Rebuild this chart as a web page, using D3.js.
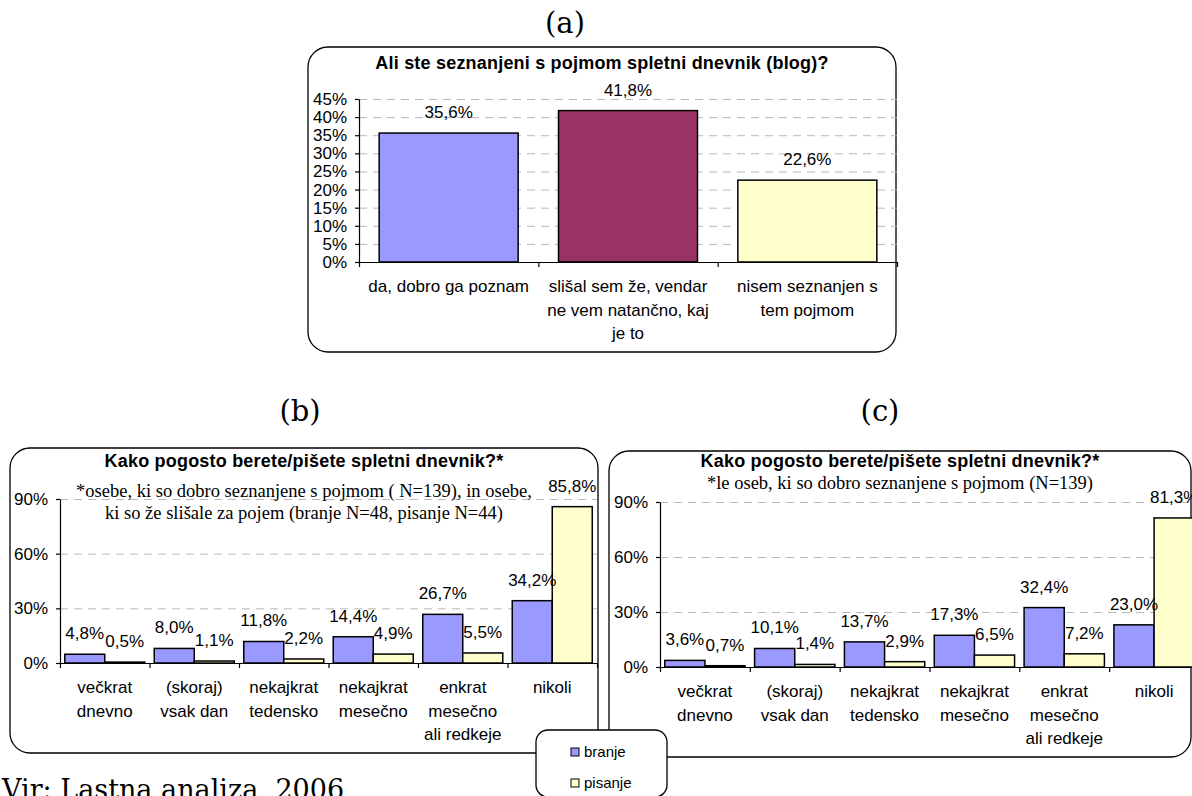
<!DOCTYPE html>
<html><head><meta charset="utf-8">
<script src="https://cdn.jsdelivr.net/npm/d3@7"></script>
<style>
body{margin:0;background:#fff;}
svg{display:block;}
</style></head>
<body>
<svg id="c" width="1192" height="796"></svg>
<script>
// ---- data ----
const catsA = [["da, dobro ga poznam"], ["slišal sem že, vendar", "ne vem natančno, kaj", "je to"], ["nisem seznanjen s", "tem pojmom"]];
const valsA = [35.6, 41.8, 22.6];
const ticksA = [0, 5, 10, 15, 20, 25, 30, 35, 40, 45];

const catsBC = [["večkrat", "dnevno"], ["(skoraj)", "vsak dan"], ["nekajkrat", "tedensko"], ["nekajkrat", "mesečno"], ["enkrat", "mesečno", "ali redkeje"], ["nikoli"]];
const seriesNames = ["branje", "pisanje"];
const branjeB = [4.8, 8.0, 11.8, 14.4, 26.7, 34.2];
const pisanjeB = [0.5, 1.1, 2.2, 4.9, 5.5, 85.8];
const branjeC = [3.6, 10.1, 13.7, 17.3, 32.4, 23.0];
const pisanjeC = [0.7, 1.4, 2.9, 6.5, 7.2, 81.3];
const ticksBC = [0, 30, 60, 90];

const titleA = "Ali ste seznanjeni s pojmom spletni dnevnik (blog)?";
const titleBC = "Kako pogosto berete/pišete spletni dnevnik?*";
const subB = ["*osebe, ki so dobro seznanjene s pojmom ( N=139), in osebe,", "ki so že slišale za pojem (branje N=48, pisanje N=44)"];
const subC = ["*le oseb, ki so dobro seznanjene s pojmom (N=139)"];

// ---- styles ----
const SANS = "'Liberation Sans', Arial, sans-serif";
const TIMES = "'Liberation Serif', 'Times New Roman', serif";
const SERIF = "'DejaVu Serif', serif";
const colA = ["#9999FF", "#993366", "#FFFFCC"];
const colS = {branje: "#9999FF", pisanje: "#FFFFCC"};
const fmt = v => v.toFixed(1).replace(".", ",") + "%";

const svg = d3.select("#c");

// captions
svg.append("text").attr("x", 565).attr("y", 33).attr("text-anchor", "middle")
  .style("font-family", SERIF).style("font-size", "29px").text("(a)");
svg.append("text").attr("x", 300).attr("y", 421).attr("text-anchor", "middle")
  .style("font-family", SERIF).style("font-size", "29px").text("(b)");
svg.append("text").attr("x", 880).attr("y", 421).attr("text-anchor", "middle")
  .style("font-family", SERIF).style("font-size", "29px").text("(c)");
svg.append("text").attr("x", 2).attr("y", 799)
  .style("font-family", SERIF).style("font-size", "27px").text("Vir: Lastna analiza, 2006");

function frame(x0, y0, x1, y1) {
  svg.append("rect").attr("x", x0).attr("y", y0).attr("width", x1 - x0).attr("height", y1 - y0)
    .attr("rx", 20).attr("ry", 20).attr("fill", "#fff").attr("stroke", "#000").attr("stroke-width", 1.3);
}

function yAxisAndGrid(g, y, ticks, left, right) {
  g.append("g").attr("transform", `translate(${left},0)`)
    .call(d3.axisLeft(y).tickValues(ticks.filter(t => t > 0)).tickSize(-(right - left)).tickFormat(""))
    .call(a => a.select(".domain").remove())
    .selectAll("line").attr("stroke", "#b8b8b8").attr("stroke-dasharray", "8,6").attr("stroke-width", 1);
  const ax = g.append("g").attr("transform", `translate(${left},0)`)
    .call(d3.axisLeft(y).tickValues(ticks).tickSize(4).tickSizeOuter(0).tickPadding(8).tickFormat(d => d + "%"));
  ax.selectAll("text").style("font-family", SANS).style("font-size", "17px").attr("fill", "#000");
  ax.selectAll("line,path").attr("stroke", "#000").attr("stroke-width", 1.2);
}

function xAxis(g, n, left, right, yBase) {
  const lin = d3.scaleLinear().domain([0, n]).range([left, right]);
  const ax = g.append("g").attr("transform", `translate(0,${yBase})`)
    .call(d3.axisBottom(lin).tickValues(d3.range(0, n + 1)).tickSize(5).tickSizeOuter(0).tickFormat(""));
  ax.selectAll("line,path").attr("stroke", "#000").attr("stroke-width", 1.2);
}

function catLabels(g, cats, xc, yBase) {
  cats.forEach((lines, i) => {
    const t = g.append("text").attr("text-anchor", "middle")
      .style("font-family", SANS).style("font-size", "17px");
    lines.forEach((ln, j) => {
      t.append("tspan").attr("x", xc(i)).attr("y", yBase + 30 + j * 23.5).text(ln);
    });
  });
}

// ---------- chart (a) ----------
{
  frame(308, 47, 896, 352);
  const g = svg.append("g");
  const L = 359, R = 897;
  const x = d3.scaleBand().domain(d3.range(valsA.length)).range([L, R]).paddingInner(0.225).paddingOuter(0.1125);
  const y = d3.scaleLinear().domain([0, 45]).range([262, 99]);
  yAxisAndGrid(g, y, ticksA, L, R);
  g.selectAll("rect.bar").data(valsA).join("rect").attr("class", "bar")
    .attr("x", (d, i) => x(i)).attr("width", x.bandwidth())
    .attr("y", d => y(d)).attr("height", d => y(0) - y(d))
    .attr("fill", (d, i) => colA[i]).attr("stroke", "#000").attr("stroke-width", 1.5);
  g.selectAll("text.val").data(valsA).join("text").attr("class", "val")
    .attr("x", (d, i) => x(i) + x.bandwidth() / 2).attr("y", d => y(d) - 15)
    .attr("text-anchor", "middle").style("font-family", SANS).style("font-size", "17px").text(fmt);
  xAxis(g, valsA.length, L, R, 262);
  catLabels(g, catsA, i => x(i) + x.bandwidth() / 2, 262);
  g.append("text").attr("x", 602).attr("y", 69).attr("text-anchor", "middle")
    .style("font-family", SANS).style("font-weight", "bold").style("font-size", "18px")
    .style("letter-spacing", "0.2px").text(titleA);
}

// ---------- grouped charts (b) and (c) ----------
function grouped(box, L, R, yTop, yBase, br, pi, sub, subY, titleY) {
  frame(box[0], box[1], box[2], box[3]);
  const g = svg.append("g");
  const x0 = d3.scaleBand().domain(d3.range(catsBC.length)).range([L, R]).paddingInner(0.106).paddingOuter(0.053);
  const x1 = d3.scaleBand().domain(seriesNames).range([0, x0.bandwidth()]);
  const y = d3.scaleLinear().domain([0, 90]).range([yBase, yTop]);
  yAxisAndGrid(g, y, ticksBC, L, R);
  const rows = catsBC.map((c, i) => ({i, branje: br[i], pisanje: pi[i]}));
  const grp = g.selectAll("g.cat").data(rows).join("g").attr("class", "cat")
    .attr("transform", d => `translate(${x0(d.i)},0)`);
  grp.selectAll("rect").data(d => seriesNames.map(k => ({k, v: d[k]}))).join("rect")
    .attr("x", d => x1(d.k)).attr("width", x1.bandwidth())
    .attr("y", d => y(d.v)).attr("height", d => y(0) - y(d.v))
    .attr("fill", d => colS[d.k]).attr("stroke", "#000").attr("stroke-width", 1.5);
  xAxis(g, catsBC.length, L, R, yBase);
  grp.selectAll("text").data(d => seriesNames.map(k => ({k, v: d[k]}))).join("text")
    .attr("x", d => x1(d.k) + x1.bandwidth() / 2).attr("y", d => y(d.v) - 15)
    .attr("text-anchor", "middle").style("font-family", SANS).style("font-size", "17px").text(d => fmt(d.v));
  catLabels(g, catsBC, i => x0(i) + x0.bandwidth() / 2, yBase);
  const cx = (box[0] + box[2]) / 2;
  g.append("text").attr("x", cx).attr("y", titleY).attr("text-anchor", "middle")
    .style("font-family", SANS).style("font-weight", "bold").style("font-size", "18px")
    .style("letter-spacing", "0.2px").text(titleBC);
  sub.forEach((s, j) => {
    g.append("text").attr("x", cx).attr("y", subY[j]).attr("text-anchor", "middle")
      .style("font-family", TIMES).style("font-size", "18.5px").text(s);
  });
}

grouped([10, 448, 598, 753], 60, 597, 499, 663, branjeB, pisanjeB, subB, [497, 519], 467);
grouped([609, 451, 1191, 757], 660, 1199, 502, 667, branjeC, pisanjeC, subC, [489], 467);

// ---------- legend ----------
{
  const lg = svg.append("g");
  lg.append("rect").attr("x", 536).attr("y", 730).attr("width", 131).attr("height", 67)
    .attr("rx", 12).attr("ry", 12).attr("fill", "#fff").attr("stroke", "#000").attr("stroke-width", 1.3);
  seriesNames.forEach((k, i) => {
    lg.append("rect").attr("x", 571).attr("y", 748 + i * 31).attr("width", 8).attr("height", 8)
      .attr("fill", colS[k]).attr("stroke", "#000").attr("stroke-width", 1);
    lg.append("text").attr("x", 584).attr("y", 757 + i * 31)
      .style("font-family", SANS).style("font-size", "15px").text(k);
  });
}
</script>
</body></html>
